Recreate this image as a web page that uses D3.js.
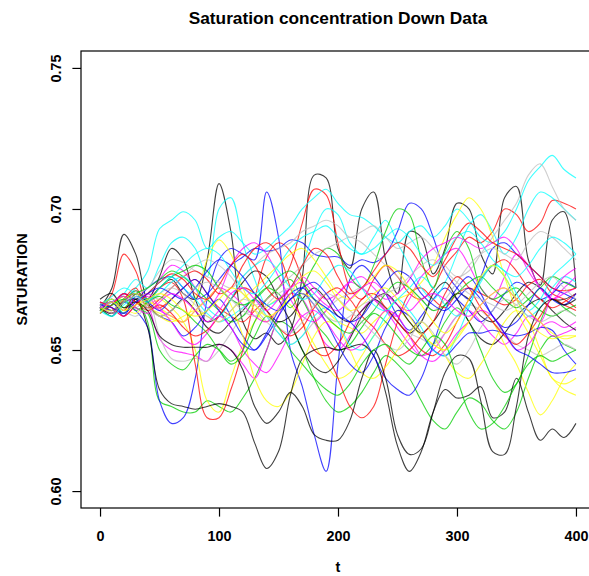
<!DOCTYPE html>
<html><head><meta charset="utf-8">
<script src="https://cdn.jsdelivr.net/npm/d3@7"></script>
<style>body{margin:0;background:#fff}</style>
</head><body>
<svg id="chart" width="589" height="576"></svg>
<script>
// time grid (t = 0..400, every 10)
const tGrid = d3.range(0, 401, 10);
const xTicks = [0, 100, 200, 300, 400];
const yTicks = [0.60, 0.65, 0.70, 0.75];
const palette = ["#000000","#ff0000","#00cd00","#0000ff","#00ffff","#ff00ff","#ffff00","#bebebe"];

// SATURATION values in thousandths (e.g. 665 = 0.665), one array per curve
const black = [
 [667,664,668,670,668,672,675,670,668,682,709,692,660,654,656,652,657,676,712,711,686,679,700,706,682,670,692,690,677,686,702,700,684,677,704,708,682,673,696,699,672],
 [665,672,691,684,667,662,664,668,664,658,656,660,664,668,664,660,662,668,672,668,662,660,664,668,670,666,660,656,660,666,670,668,662,660,664,670,674,672,668,668,670],
 [664,667,663,668,668,676,686,682,668,660,662,668,674,678,676,668,660,650,644,642,646,654,662,668,665,660,656,660,670,674,668,660,654,652,656,662,666,668,664,660,657],
 [665,663,667,668,658,636,631,630,629,630,631,630,628,617,608,614,634,647,650,651,650,651,652,648,635,616,607,614,628,636,633,634,637,626,628,640,628,618,622,619,624],
 [668,670,665,667,664,655,652,651,651,651,652,650,643,630,624,628,635,630,620,618,618,625,640,650,640,620,613,615,628,642,648,647,632,614,613,630,655,665,668,666,668]
];
const red = [
 [664,670,684,678,666,665,668,672,675,670,665,662,660,664,668,672,680,695,707,705,688,672,668,675,680,676,670,668,672,680,685,690,688,692,700,698,692,695,703,702,700],
 [665,668,664,670,667,672,674,668,645,626,626,636,650,668,683,688,685,675,662,650,640,630,626,630,645,660,670,672,668,665,670,672,670,668,666,668,673,675,670,668,665],
 [666,663,668,672,665,668,672,676,678,675,670,672,680,686,688,684,672,660,650,648,652,660,668,670,665,660,655,650,648,652,660,668,675,680,682,678,672,668,665,667,670],
 [663,666,670,667,664,666,663,658,655,657,662,668,672,670,664,658,655,658,665,670,672,668,662,658,652,648,650,655,660,670,676,672,665,660,655,652,656,662,668,666,664],
 [667,665,662,666,670,674,677,675,670,668,673,680,684,680,672,668,672,680,686,684,676,670,672,678,684,688,686,680,676,682,690,695,692,688,686,684,680,676,672,671,672]
];
const green = [
 [665,667,663,668,660,632,630,628,628,632,630,628,633,640,650,660,658,650,640,632,628,630,635,642,648,645,640,632,625,622,628,633,631,625,622,628,640,650,655,652,650],
 [664,666,669,665,663,650,645,643,648,652,650,646,650,660,668,672,675,668,660,655,650,652,658,663,660,655,650,648,652,660,665,660,650,640,635,638,648,660,668,665,662],
 [666,668,665,670,672,675,678,676,672,668,664,660,662,668,672,670,665,672,680,686,684,676,672,680,692,700,698,682,672,685,692,686,672,668,670,672,668,664,662,664,666],
 [665,662,667,671,668,672,676,678,680,678,672,668,666,668,672,676,678,674,668,662,658,656,660,664,670,674,672,668,664,666,670,674,676,672,668,665,668,672,676,674,672],
 [664,666,668,664,667,669,666,664,660,656,650,645,648,655,662,658,650,645,640,636,634,638,645,650,652,648,645,650,655,652,640,628,622,624,630,638,645,648,646,648,650]
];
const blue = [
 [665,662,667,664,658,632,624,626,640,668,682,686,684,682,706,690,650,637,620,607,645,675,680,676,670,662,657,662,668,672,668,664,660,664,670,674,672,668,670,674,672],
 [663,666,670,668,672,675,676,672,668,670,675,680,683,686,685,686,689,688,684,683,683,680,682,681,684,692,702,700,690,678,672,668,676,686,688,684,680,676,672,670,668],
 [666,664,668,670,666,662,660,655,658,664,668,662,655,650,655,662,668,670,666,660,652,645,642,648,658,664,662,656,650,648,652,656,656,657,656,655,656,658,657,650,645],
 [665,667,662,669,667,664,668,672,675,670,664,658,652,650,656,664,670,672,668,665,662,660,655,648,640,636,634,640,652,664,672,676,670,662,658,660,666,672,668,666,670],
 [666,665,663,667,670,672,670,668,672,678,682,680,676,670,666,664,668,672,674,670,664,660,662,668,674,678,676,670,666,664,668,672,668,662,656,650,648,645,642,642,643]
];
const cyan = [
 [663,666,668,672,678,693,696,699,696,686,690,692,688,684,686,690,694,700,704,707,702,698,697,694,690,688,692,694,690,694,700,696,690,688,692,700,710,715,719,714,711],
 [664,667,670,675,672,680,688,690,686,676,700,704,688,675,666,668,672,680,692,700,698,688,684,690,696,688,680,672,668,674,684,694,698,692,684,690,700,706,704,700,696],
 [665,668,663,667,670,674,676,672,668,663,660,662,665,668,662,656,652,655,662,665,660,652,650,655,662,668,664,658,650,648,655,665,675,680,676,668,662,665,672,676,674],
 [666,669,672,670,668,670,674,676,672,665,662,668,676,680,682,678,672,668,670,676,680,678,672,666,664,668,672,676,672,666,662,666,674,680,678,670,664,668,676,680,684],
 [664,662,666,669,667,672,676,680,684,686,684,678,672,670,674,680,686,690,692,694,690,686,684,686,690,693,690,684,680,684,690,692,688,682,678,676,680,686,690,688,684]
];
const magenta = [
 [666,668,664,670,666,654,650,649,648,646,652,650,645,640,650,662,670,668,660,652,650,655,664,668,664,658,652,648,650,656,662,664,660,655,652,656,662,660,655,656,658],
 [665,663,667,671,668,675,680,678,672,665,670,680,686,688,684,676,668,662,660,664,670,674,672,668,664,662,668,676,680,684,686,680,672,668,676,684,680,672,668,672,676],
 [664,666,670,667,669,664,662,660,664,668,672,670,666,662,660,665,672,676,672,668,670,674,676,672,668,670,675,682,686,688,690,688,686,688,690,686,678,672,668,670,672],
 [667,665,662,666,670,665,660,654,652,656,662,658,650,645,642,648,656,662,664,660,654,650,652,658,664,662,655,648,646,650,656,660,664,662,656,650,652,658,660,658,660],
 [665,667,669,665,663,667,670,668,664,660,664,670,672,668,664,668,672,674,670,666,664,668,672,674,670,666,664,668,670,668,664,662,666,670,672,668,664,660,670,676,679]
];
const yellow = [
 [665,667,663,668,666,668,665,660,650,632,628,640,652,660,665,668,666,660,652,645,640,642,648,655,660,664,660,655,652,650,655,660,664,660,652,645,635,627,632,640,645],
 [664,666,669,667,665,663,661,660,668,682,689,684,672,664,660,664,668,670,668,664,660,658,656,660,664,668,670,674,680,690,698,704,700,690,676,664,656,648,640,636,634],
 [666,668,665,663,667,665,662,660,664,668,672,666,655,640,632,630,635,645,655,660,658,650,642,640,644,650,656,660,655,648,642,640,645,652,660,664,660,650,640,638,640],
 [665,664,668,670,666,662,660,662,664,662,660,664,668,672,676,680,684,686,682,676,670,668,672,676,680,678,672,666,660,656,660,668,676,680,676,668,660,656,654,655,655],
 [663,667,664,666,668,670,668,664,662,664,668,672,670,666,662,664,670,676,678,674,668,664,666,670,672,668,662,656,652,650,654,660,666,670,672,668,664,660,656,654,655]
];
const gray = [
 [666,664,668,665,668,655,647,646,647,646,650,656,662,664,660,656,652,655,660,664,668,670,672,668,664,660,656,654,652,656,662,666,664,660,656,652,650,648,650,652,650],
 [664,666,668,670,672,678,682,681,678,676,674,672,676,680,684,686,688,692,694,696,694,690,692,694,690,686,688,690,686,680,676,678,684,690,696,702,712,716,708,700,696],
 [667,665,663,667,670,668,672,676,680,682,680,676,670,666,668,672,676,680,684,686,688,690,688,684,680,676,672,668,664,668,674,680,684,686,684,682,688,692,690,686,682],
 [665,667,664,662,666,670,672,670,666,662,660,664,668,666,662,658,656,660,666,670,668,664,660,656,652,650,654,660,656,648,645,650,658,664,668,666,662,660,662,664,662],
 [666,663,667,669,665,662,664,668,672,674,672,668,664,662,666,670,672,670,666,662,660,662,666,668,670,672,676,680,682,678,674,670,668,666,664,666,670,674,676,672,668]
];

const groups = [black, red, green, blue, cyan, magenta, yellow, gray];

const svg = d3.select("#chart");
const mL = 81, mR = 595, mT = 51, mB = 508;
const x = d3.scaleLinear().domain([-16, 416]).range([mL, mR]);
const y = d3.scaleLinear().domain([0.594, 0.756]).range([mB, mT]);
const font = "'Liberation Sans', Arial, Helvetica, sans-serif";

svg.append("defs").append("clipPath").attr("id", "clip")
  .append("rect").attr("x", mL).attr("y", mT).attr("width", mR - mL).attr("height", mB - mT);

// interleave curves like matplot column order with a cycling palette
const curves = [];
for (let k = 0; k < 5; k++) {
  groups.forEach((g, c) => { if (g[k]) curves.push({ vals: g[k], color: palette[c] }); });
}

const line = d3.line()
  .x((d, i) => x(tGrid[i]))
  .y(d => y(d / 1000))
  .curve(d3.curveCatmullRom.alpha(0.5));

svg.append("g").attr("clip-path", "url(#clip)")
  .selectAll("path").data(curves).join("path")
  .attr("d", d => line(d.vals))
  .attr("fill", "none")
  .attr("stroke", d => d.color)
  .attr("stroke-width", 1.1)
  .attr("stroke-opacity", 0.75);

// box
svg.append("rect").attr("x", mL).attr("y", mT).attr("width", mR - mL).attr("height", mB - mT)
  .attr("fill", "none").attr("stroke", "#000").attr("stroke-width", 1.2);

// x axis
const gx = svg.append("g").attr("transform", `translate(0,${mB})`)
  .call(d3.axisBottom(x).tickValues(xTicks).tickSize(8.6).tickSizeOuter(0).tickPadding(14.2).tickFormat(d3.format("d")));
gx.select(".domain").remove();
gx.selectAll("line").attr("stroke", "#000").attr("stroke-width", 1.2);
gx.selectAll("text").attr("font-family", font).attr("font-weight", "bold").attr("font-size", 14.4).attr("fill", "#000");

// y axis
const gy = svg.append("g").attr("transform", `translate(${mL},0)`)
  .call(d3.axisLeft(y).tickValues(yTicks).tickSize(8.6).tickSizeOuter(0).tickFormat(d3.format(".2f")));
gy.select(".domain").remove();
gy.selectAll("line").attr("stroke", "#000").attr("stroke-width", 1.2);
gy.selectAll("text")
  .attr("x", null).attr("dy", null)
  .attr("transform", "translate(-20,0) rotate(-90)")
  .attr("text-anchor", "middle")
  .attr("font-family", font).attr("font-weight", "bold").attr("font-size", 14.4).attr("fill", "#000");

// titles
svg.append("text").attr("x", (mL + mR) / 2).attr("y", 24).attr("text-anchor", "middle")
  .attr("font-family", font).attr("font-weight", "bold").attr("font-size", 17.3)
  .text("Saturation concentration Down Data");
svg.append("text").attr("x", (mL + mR) / 2).attr("y", 572).attr("text-anchor", "middle")
  .attr("font-family", font).attr("font-weight", "bold").attr("font-size", 14.4).text("t");
svg.append("text").attr("transform", `translate(27,${(mT + mB) / 2}) rotate(-90)`).attr("text-anchor", "middle")
  .attr("font-family", font).attr("font-weight", "bold").attr("font-size", 14.4).text("SATURATION");
</script>
</body></html>
